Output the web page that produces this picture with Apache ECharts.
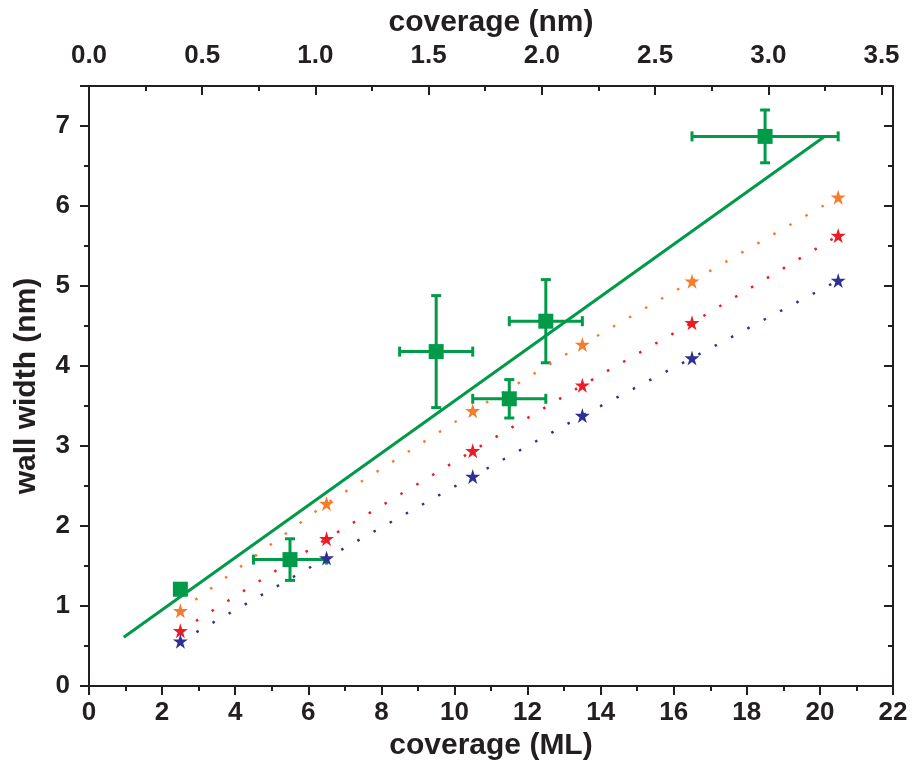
<!DOCTYPE html>
<html>
<head>
<meta charset="utf-8">
<script src="https://cdn.jsdelivr.net/npm/echarts@6/dist/echarts.min.js"></script>
<style>
  html, body { margin: 0; padding: 0; background: #fff; }
  #chart { width: 916px; height: 771px; }
</style>
</head>
<body>
<div id="chart"></div>
<script>
// measured wall widths (green squares) with error bars
const sqX = [2.5, 5.5, 9.5, 11.5, 12.5, 18.5];
const sqY = [1.21, 1.58, 4.18, 3.59, 4.56, 6.87];
const sqXErr = [0.0, 1.0, 1.0, 1.0, 1.0, 2.0];
const sqYErr = [0.07, 0.26, 0.70, 0.24, 0.52, 0.33];

// linear fit through the measured points
const fitX = [0.95, 20.1];
const fitY = [0.61, 6.86];

// model values (stars)
const starX = [2.5, 6.5, 10.5, 13.5, 16.5, 20.5];
const orangeY = [0.94, 2.28, 3.44, 4.27, 5.06, 6.11];
const redY = [0.69, 1.84, 2.94, 3.76, 4.54, 5.63];
const blueY = [0.56, 1.60, 2.62, 3.38, 4.10, 5.07];

// 1 ML in nm for the top axis
const nmPerML = 0.1614;

const green = "#009a48";
const ink = "#231f20";
const font = "Liberation Sans, Arial, sans-serif";
const star = "path://M50,0 L61,35 L98,35 L68,57 L79,91 L50,70 L21,91 L32,57 L2,35 L39,35 Z";

const chart = echarts.init(document.getElementById("chart"));

const pairs = (xs, ys) => xs.map((x, i) => [x, ys[i]]);

const axisCommon = {
  type: "value",
  axisLine: { show: true, onZero: false, lineStyle: { color: ink, width: 2 } },
  axisTick: { show: true, length: 9, lineStyle: { color: ink, width: 2 } },
  minorTick: { show: true, splitNumber: 2, length: 5, lineStyle: { color: ink, width: 2 } },
  splitLine: { show: false },
  axisLabel: { color: ink, fontSize: 26, fontWeight: "bold", fontFamily: font, showMaxLabel: false },
  nameLocation: "middle",
  nameTextStyle: { color: ink, fontSize: 30, fontWeight: "bold", fontFamily: font },
};

const option = {
  animation: false,
  backgroundColor: "#fff",
  grid: { left: 89, right: 23, top: 86, bottom: 85 },
  xAxis: [
    {
      ...axisCommon,
      position: "bottom",
      min: 0,
      max: 22,
      interval: 2,
      name: "coverage (ML)",
      nameGap: 43,
      axisLabel: { ...axisCommon.axisLabel, showMaxLabel: true, margin: 14 },
    },
    {
      ...axisCommon,
      position: "top",
      min: 0,
      max: 22 * nmPerML,
      interval: 0.5,
      name: "coverage (nm)",
      nameGap: 47,
      axisTick: { ...axisCommon.axisTick, inside: true },
      minorTick: { ...axisCommon.minorTick, inside: true },
      axisLabel: { ...axisCommon.axisLabel, margin: 17, formatter: (v) => v.toFixed(1) },
    },
  ],
  yAxis: [
    {
      ...axisCommon,
      position: "left",
      min: 0,
      max: 7.5,
      interval: 1,
      name: "wall width (nm)",
      nameGap: 47,
      axisLabel: { ...axisCommon.axisLabel, margin: 19 },
    },
    {
      ...axisCommon,
      position: "right",
      min: 0,
      max: 7.5,
      interval: 1,
      axisTick: { ...axisCommon.axisTick, inside: true },
      minorTick: { ...axisCommon.minorTick, inside: true },
      axisLabel: { show: false },
    },
  ],
  series: [
    {
      type: "line",
      data: pairs(fitX, fitY),
      showSymbol: false,
      lineStyle: { color: green, width: 3 },
      z: 2,
    },
    {
      type: "custom",
      data: sqX.map((x, i) => [x, sqY[i], sqXErr[i], sqYErr[i]]),
      z: 3,
      renderItem: (params, api) => {
        const x = api.value(0), y = api.value(1);
        const ex = api.value(2), ey = api.value(3);
        const cap = 5;
        const style = { stroke: green, lineWidth: 3 };
        const l = api.coord([x - ex, y]), r = api.coord([x + ex, y]);
        const t = api.coord([x, y + ey]), b = api.coord([x, y - ey]);
        const children = [];
        if (ex > 0) {
          children.push(
            { type: "line", shape: { x1: l[0], y1: l[1], x2: r[0], y2: r[1] }, style },
            { type: "line", shape: { x1: l[0], y1: l[1] - cap, x2: l[0], y2: l[1] + cap }, style },
            { type: "line", shape: { x1: r[0], y1: r[1] - cap, x2: r[0], y2: r[1] + cap }, style }
          );
        }
        children.push(
          { type: "line", shape: { x1: t[0], y1: t[1], x2: b[0], y2: b[1] }, style },
          { type: "line", shape: { x1: t[0] - cap, y1: t[1], x2: t[0] + cap, y2: t[1] }, style },
          { type: "line", shape: { x1: b[0] - cap, y1: b[1], x2: b[0] + cap, y2: b[1] }, style }
        );
        return { type: "group", children };
      },
    },
    {
      type: "scatter",
      data: pairs(sqX, sqY),
      symbol: "rect",
      symbolSize: 15,
      itemStyle: { color: green, opacity: 1 },
      z: 4,
    },
    {
      type: "line",
      data: pairs(starX, orangeY),
      symbol: star,
      symbolSize: 15,
      itemStyle: { color: "#f47c2b", opacity: 1 },
      lineStyle: { color: "#f47c2b", width: 2.5, type: [2.5, 16] },
      z: 3,
    },
    {
      type: "line",
      data: pairs(starX, redY),
      symbol: star,
      symbolSize: 15,
      itemStyle: { color: "#ec1c24", opacity: 1 },
      lineStyle: { color: "#ec1c24", width: 2.5, type: [2.5, 16] },
      z: 3,
    },
    {
      type: "line",
      data: pairs(starX, blueY),
      symbol: star,
      symbolSize: 15,
      itemStyle: { color: "#2e3192", opacity: 1 },
      lineStyle: { color: "#2e3192", width: 2.5, type: [2.5, 16] },
      z: 3,
    },
  ],
};

chart.setOption(option);
</script>
</body>
</html>
